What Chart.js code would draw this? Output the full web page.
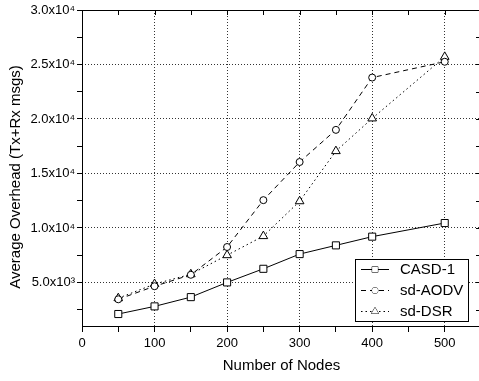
<!DOCTYPE html>
<html>
<head>
<meta charset="utf-8">
<script src="https://cdn.jsdelivr.net/npm/chart.js@4/dist/chart.umd.min.js"></script>
<style>
html,body{margin:0;padding:0;background:#fff;overflow:hidden;}
#wrap{width:479px;height:381px;position:relative;overflow:hidden;}
</style>
</head>
<body>
<div id="wrap"><canvas id="c" width="487" height="381"></canvas></div>
<script>
const nodes = [50, 100, 150, 200, 250, 300, 350, 400, 500];
const casd1 = [2100, 2800, 3650, 5000, 6250, 7600, 8400, 9200, 10450];
const sdAodv = [3450, 4650, 5700, 8250, 12550, 16050, 19000, 23800, 25250];
const sdDsr = [3550, 4850, 5750, 7500, 9250, 12450, 17050, 20050, 25700];
const seriesNames = ['CASD-1', 'sd-AODV', 'sd-DSR'];
const xTickValues = [0, 50, 100, 150, 200, 250, 300, 350, 400, 450, 500, 550];
const yTickValues = [2500, 5000, 7500, 10000, 12500, 15000, 17500, 20000, 22500, 25000, 27500, 30000];
const xTitle = 'Number of Nodes';
const yTitle = 'Average Overhead (Tx+Rx msgs)';

const FONT = '"Liberation Sans", Arial, sans-serif';
const sup = {'3': '\u00B3', '4': '\u2074'};
function sciLabel(v) {
  const e = Math.floor(Math.log10(v));
  return (v / Math.pow(10, e)).toFixed(1) + 'x10' + sup[String(e)];
}
function pts(ys) { return nodes.map((x, i) => ({x: x, y: ys[i]})); }

const common = {borderColor: '#000', backgroundColor: '#fff', borderWidth: 1, pointBorderColor: '#000', pointBackgroundColor: '#fff', pointBorderWidth: 1, tension: 0};
const datasets = [
  Object.assign({label: seriesNames[0], data: pts(casd1), pointStyle: 'rect', pointRadius: 5, borderDash: []}, common),
  Object.assign({label: seriesNames[1], data: pts(sdAodv), pointStyle: 'circle', pointRadius: 3.5, borderDash: [5, 4]}, common),
  Object.assign({label: seriesNames[2], data: pts(sdDsr), pointStyle: 'triangle', pointRadius: 5, borderDash: [1.5, 3]}, common)
];

const framePlugin = {
  id: 'frame',
  afterDraw(chart) {
    const ctx = chart.ctx, a = chart.chartArea;
    const xs = chart.scales.x, ys = chart.scales.y;
    ctx.save();
    ctx.strokeStyle = '#000';
    ctx.lineWidth = 1;
    ctx.setLineDash([]);
    ctx.beginPath();
    ctx.moveTo(a.left, a.top + 0.5); ctx.lineTo(a.right, a.top + 0.5);
    ctx.moveTo(a.right - 0.5, a.top); ctx.lineTo(a.right - 0.5, a.bottom);
    ctx.moveTo(Math.round(a.left) + 0.5, a.top); ctx.lineTo(Math.round(a.left) + 0.5, Math.round(a.bottom) + 1);
    ctx.moveTo(a.left, Math.round(a.bottom) + 0.5); ctx.lineTo(a.right, Math.round(a.bottom) + 0.5);
    xTickValues.forEach(v => {
      const px = Math.round(xs.getPixelForValue(v)) + 0.5;
      ctx.moveTo(px, a.top); ctx.lineTo(px, a.top + 5);
    });
    yTickValues.forEach(v => {
      const py = Math.round(ys.getPixelForValue(v)) + 0.5;
      ctx.moveTo(a.right, py); ctx.lineTo(a.right - 5, py);
    });
    ctx.stroke();

    // axis titles
    ctx.fillStyle = '#000';
    ctx.font = '15px ' + FONT;
    ctx.textAlign = 'center';
    ctx.textBaseline = 'middle';
    ctx.fillText(xTitle, (a.left + a.right) / 2, 366);
    ctx.save();
    ctx.translate(16, 177);
    ctx.rotate(-Math.PI / 2);
    ctx.fillText(yTitle, 0, 0);
    ctx.restore();

    // legend box
    const bx = 355, by = a.bottom - 67, bw = 113, bh = 62;
    ctx.fillStyle = '#fff';
    ctx.fillRect(bx, by, bw, bh);
    ctx.strokeRect(bx + 0.5, by + 0.5, bw, bh);
    chart.data.datasets.forEach((ds, i) => {
      const ry = by + 10 + i * 21;
      ctx.save();
      ctx.strokeStyle = '#000';
      ctx.setLineDash(ds.borderDash || []);
      ctx.beginPath();
      ctx.moveTo(bx + 6, ry + 0.5); ctx.lineTo(bx + 34, ry + 0.5);
      ctx.stroke();
      ctx.setLineDash([]);
      ctx.fillStyle = '#fff';
      Chart.helpers.drawPoint(ctx, {pointStyle: ds.pointStyle, radius: ds.pointStyle === 'circle' ? 3 : 4, borderWidth: 1, rotation: 0}, bx + 20, ry + 0.5);
      ctx.fill();
      ctx.restore();
      ctx.fillStyle = '#000';
      ctx.font = '15px ' + FONT;
      ctx.textAlign = 'left';
      ctx.textBaseline = 'middle';
      ctx.fillText(ds.label, bx + 45, ry + 1);
    });
    ctx.restore();
  }
};

new Chart(document.getElementById('c'), {
  type: 'line',
  data: {datasets: datasets},
  options: {
    responsive: false,
    animation: false,
    layout: {padding: {left: 0, top: 10, right: 0, bottom: 0}},
    plugins: {legend: {display: false}, tooltip: {enabled: false}},
    scales: {
      x: {
        type: 'linear', min: 0, max: 550,
        afterBuildTicks(s) { s.ticks = xTickValues.map(v => ({value: v})); },
        afterFit(s) { s.height = 55; },
        ticks: {
          autoSkip: false, maxRotation: 0, padding: 4,
          color: '#000', font: {family: FONT, size: 13},
          callback: v => (v % 100 === 0 && v <= 500) ? String(v) : ''
        },
        grid: {
          drawTicks: true, tickLength: 6, tickColor: '#000', tickWidth: 1,
          color: c => (c.tick && c.tick.value % 100 === 0 && c.tick.value > 0 && c.tick.value < 550) ? '#333' : 'rgba(0,0,0,0)',
          lineWidth: 1
        },
        border: {display: false, dash: [1, 2]}
      },
      y: {
        type: 'linear', min: 1000, max: 30000,
        afterBuildTicks(s) { s.ticks = yTickValues.map(v => ({value: v})); },
        afterFit(s) { s.width = 82; },
        ticks: {
          autoSkip: false, padding: 2,
          color: '#000', font: {family: FONT, size: 13},
          callback: v => (v % 5000 === 0) ? sciLabel(v) : ''
        },
        grid: {
          drawTicks: true, tickLength: 5, tickColor: '#000', tickWidth: 1,
          color: c => (c.tick && c.tick.value % 5000 === 0 && c.tick.value < 30000) ? '#333' : 'rgba(0,0,0,0)',
          lineWidth: 1
        },
        border: {display: false, dash: [1, 2]}
      }
    }
  },
  plugins: [framePlugin]
});
</script>
</body>
</html>
